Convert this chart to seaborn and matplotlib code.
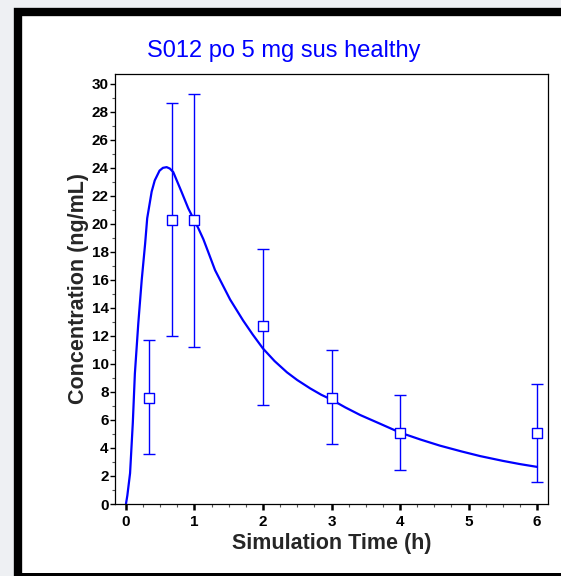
import matplotlib
matplotlib.use("Agg")
import matplotlib.pyplot as plt
from matplotlib.patches import Rectangle
from matplotlib.ticker import MultipleLocator
import seaborn as sns
import pandas as pd

# Simulated plasma concentration profile
sim_time = [0.0, 0.02, 0.06, 0.10, 0.13, 0.18, 0.23, 0.28, 0.31, 0.375, 0.42,
            0.49, 0.54, 0.594, 0.64, 0.69, 0.81, 0.91, 1.055, 1.13, 1.20,
            1.30, 1.52, 1.71, 1.85, 2.0, 2.17, 2.35, 2.5, 2.69, 2.85, 3.0,
            3.2, 3.42, 3.7, 4.0, 4.3, 4.58, 4.9, 5.17, 5.5, 5.75, 6.0]
sim_conc = [0.0, 0.6, 2.2, 5.8, 9.3, 12.9, 16.0, 18.6, 20.4, 22.3, 23.1,
            23.8, 24.0, 24.05, 23.95, 23.7, 22.3, 21.1, 19.7, 18.9, 18.0,
            16.7, 14.6, 13.1, 12.1, 11.1, 10.2, 9.4, 8.85, 8.25, 7.8, 7.45,
            6.9, 6.35, 5.75, 5.1, 4.6, 4.17, 3.75, 3.42, 3.08, 2.85, 2.65]

# Observed means with error bars
obs_time = [0.33, 0.67, 1.0, 2.0, 3.0, 4.0, 6.0]
obs_mean = [7.6, 20.3, 20.3, 12.7, 7.6, 5.1, 5.1]
obs_low = [3.6, 12.0, 11.2, 7.1, 4.3, 2.4, 1.6]
obs_high = [11.7, 28.6, 29.3, 18.2, 11.0, 7.8, 8.6]

title = "S012 po 5 mg sus healthy"
xlabel = "Simulation Time (h)"
ylabel = "Concentration (ng/mL)"

sns.set_theme(style="white")
plt.rcParams["font.family"] = ["Liberation Sans", "DejaVu Sans"]

W, H = 561, 576
fig = plt.figure(figsize=(W / 100, H / 100), dpi=100)
fig.patch.set_facecolor("#eef0f3")

# white panel with thick black frame
frame = Rectangle((18 / W, -0.02), 1.05, 1 - 11.5 / H + 0.02,
                  transform=fig.transFigure, facecolor="white",
                  edgecolor="black", linewidth=6, zorder=-10)
fig.patches.append(frame)
bottom_bar = Rectangle((14 / W, 0), 1.0, 3.5 / H, transform=fig.transFigure,
                       facecolor="black", edgecolor="none", zorder=-9)
fig.patches.append(bottom_bar)

ax = fig.add_axes([115 / W, 1 - 504 / H, (548 - 115) / W, (504 - 74) / H])
ax.set_facecolor("white")

blue = "#0000ff"
sim_df = pd.DataFrame({"t": sim_time, "c": sim_conc})
obs_df = pd.DataFrame({"t": obs_time, "c": obs_mean})

sns.lineplot(data=sim_df, x="t", y="c", ax=ax, color=blue, linewidth=1.6,
             sort=False, estimator=None)
yerr = [[m - lo for m, lo in zip(obs_mean, obs_low)],
        [hi - m for m, hi in zip(obs_mean, obs_high)]]
ax.errorbar(obs_time, obs_mean, yerr=yerr, fmt="none", ecolor=blue,
            elinewidth=1.0, capsize=4.5, capthick=1.0, zorder=3)
sns.scatterplot(data=obs_df, x="t", y="c", ax=ax, marker="s", s=50,
                facecolor="white", edgecolor=blue, linewidth=1.0, zorder=4)

ax.set_xlim(-0.16, 6.16)
ax.set_ylim(0, 30.7)
ax.xaxis.set_major_locator(MultipleLocator(1))
ax.xaxis.set_minor_locator(MultipleLocator(0.25))
ax.yaxis.set_major_locator(MultipleLocator(2))
ax.yaxis.set_minor_locator(MultipleLocator(1))

for s in ax.spines.values():
    s.set_color("black")
    s.set_linewidth(0.9)

ax.tick_params(axis="x", which="major", direction="out", length=4, width=1.8,
               colors="black", labelsize=11, pad=4, bottom=True)
ax.tick_params(axis="x", which="minor", direction="out", length=2.5,
               width=0.8, colors="#555555", bottom=True)
ax.tick_params(axis="y", which="major", direction="out", length=3.5,
               width=1.0, colors="black", labelsize=11, pad=1, left=True)
ax.tick_params(axis="y", which="minor", direction="out", length=2,
               width=0.8, colors="#555555", left=True)
for lbl in ax.get_xticklabels() + ax.get_yticklabels():
    lbl.set_fontweight("bold")

ax.set_xlabel(xlabel, fontsize=15.5, fontweight="bold", labelpad=3)
ax.set_ylabel(ylabel, fontsize=15.5, fontweight="bold", labelpad=2)

fig.text(284 / W, 1 - 51 / H, title, color=blue, fontsize=17,
         ha="center", va="center")

fig.savefig("out.png", dpi=100, facecolor=fig.get_facecolor())
